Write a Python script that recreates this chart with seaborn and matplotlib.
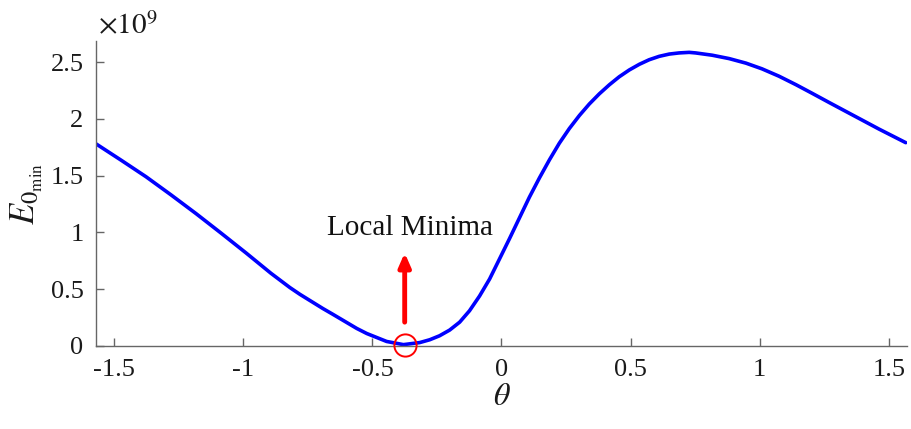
import numpy as np
import seaborn as sns
import matplotlib.pyplot as plt
from matplotlib.ticker import FuncFormatter

# values (theta in rad)
theta = [-1.571, -1.473, -1.377, -1.28, -1.183, -1.087, -0.990, -0.893, -0.82,
         -0.781, -0.692, -0.654, -0.561, -0.522, -0.445, -0.38, -0.317, -0.278,
         -0.24, -0.201, -0.162, -0.124, -0.085, -0.046, -0.008, 0.031, 0.070,
         0.108, 0.147, 0.186, 0.224, 0.263, 0.302, 0.340, 0.379, 0.418, 0.456,
         0.495, 0.534, 0.572, 0.611, 0.650, 0.688, 0.727, 0.752, 0.816, 0.882,
         0.947, 1.009, 1.075, 1.141, 1.203, 1.268, 1.334, 1.396, 1.462, 1.566]
e0_min = [1.78e9, 1.635e9, 1.49e9, 1.33e9, 1.165e9, 0.995e9, 0.82e9, 0.64e9, 0.515e9,
          0.455e9, 0.33e9, 0.28e9, 0.155e9, 0.11e9, 0.04e9, 0.012e9, 0.03e9, 0.055e9,
          0.09e9, 0.14e9, 0.21e9, 0.31e9, 0.44e9, 0.59e9, 0.765e9, 0.945e9, 1.13e9,
          1.31e9, 1.48e9, 1.64e9, 1.785e9, 1.915e9, 2.03e9, 2.13e9, 2.22e9, 2.30e9, 2.37e9,
          2.43e9, 2.48e9, 2.52e9, 2.55e9, 2.57e9, 2.58e9, 2.585e9, 2.58e9, 2.56e9, 2.53e9,
          2.49e9, 2.44e9, 2.375e9, 2.30e9, 2.225e9, 2.145e9, 2.065e9, 1.99e9, 1.91e9, 1.79e9]
min_theta = -0.375
min_e0 = 0.01e9
x_ticks = [-1.5, -1, -0.5, 0, 0.5, 1, 1.5]
y_ticks = [0, 0.5e9, 1e9, 1.5e9, 2e9, 2.5e9]

sns.set_style("ticks")
plt.rcParams["font.family"] = ["Liberation Serif", "DejaVu Serif"]
plt.rcParams["mathtext.fontset"] = "stix"
plt.rcParams["axes.unicode_minus"] = False

fig = plt.figure(figsize=(9.12, 4.29), dpi=100)
ax = fig.add_axes([96 / 912, 1 - 346 / 429, (907 - 96) / 912, (346 - 41) / 429])

sns.lineplot(x=theta, y=e0_min, ax=ax, color="#0000ff", linewidth=2.6)

# local minimum marker + arrow + label
ax.plot(min_theta, min_e0, "o", markersize=16, markerfacecolor="none",
        markeredgecolor="red", markeredgewidth=1.4, clip_on=False, zorder=5)
ax.annotate("", xy=(min_theta, 0.82e9), xytext=(min_theta, 0.21e9),
            arrowprops=dict(arrowstyle="-|>,head_length=0.8,head_width=0.35",
                            color="red", lw=3.5, shrinkA=0, shrinkB=0))
ax.text(min_theta + 0.02, 1.04e9, "Local Minima", fontsize=21, ha="center",
        va="center", color="#111111")

ax.set_xlim(-np.pi / 2, np.pi / 2)
ax.set_ylim(0, 2.685e9)
ax.set_xticks(x_ticks)
ax.set_yticks(y_ticks)
ax.xaxis.set_major_formatter(FuncFormatter(lambda v, _: f"{v:g}"))
ax.yaxis.set_major_formatter(FuncFormatter(lambda v, _: f"{v / 1e9:g}"))
ax.tick_params(direction="in", length=6, width=1, color="#666666",
               labelsize=19, labelcolor="#1a1a1a")
ax.tick_params(axis="x", pad=9)
ax.tick_params(axis="y", pad=9)

for side in ["top", "right"]:
    ax.spines[side].set_visible(False)
for side in ["left", "bottom"]:
    ax.spines[side].set_color("#666666")
    ax.spines[side].set_linewidth(1)

ax.set_xlabel(r"$\theta$", fontsize=23, color="#1a1a1a", labelpad=2)
ax.set_ylabel(r"$E_{0_{\mathrm{min}}}$", fontsize=25, color="#1a1a1a", labelpad=4)
fig.text(98 / 912, 1 - 34 / 429, r"$\times10^{9}$", fontsize=21,
         color="#1a1a1a", ha="left", va="baseline")

fig.savefig("out.png", dpi=100)
